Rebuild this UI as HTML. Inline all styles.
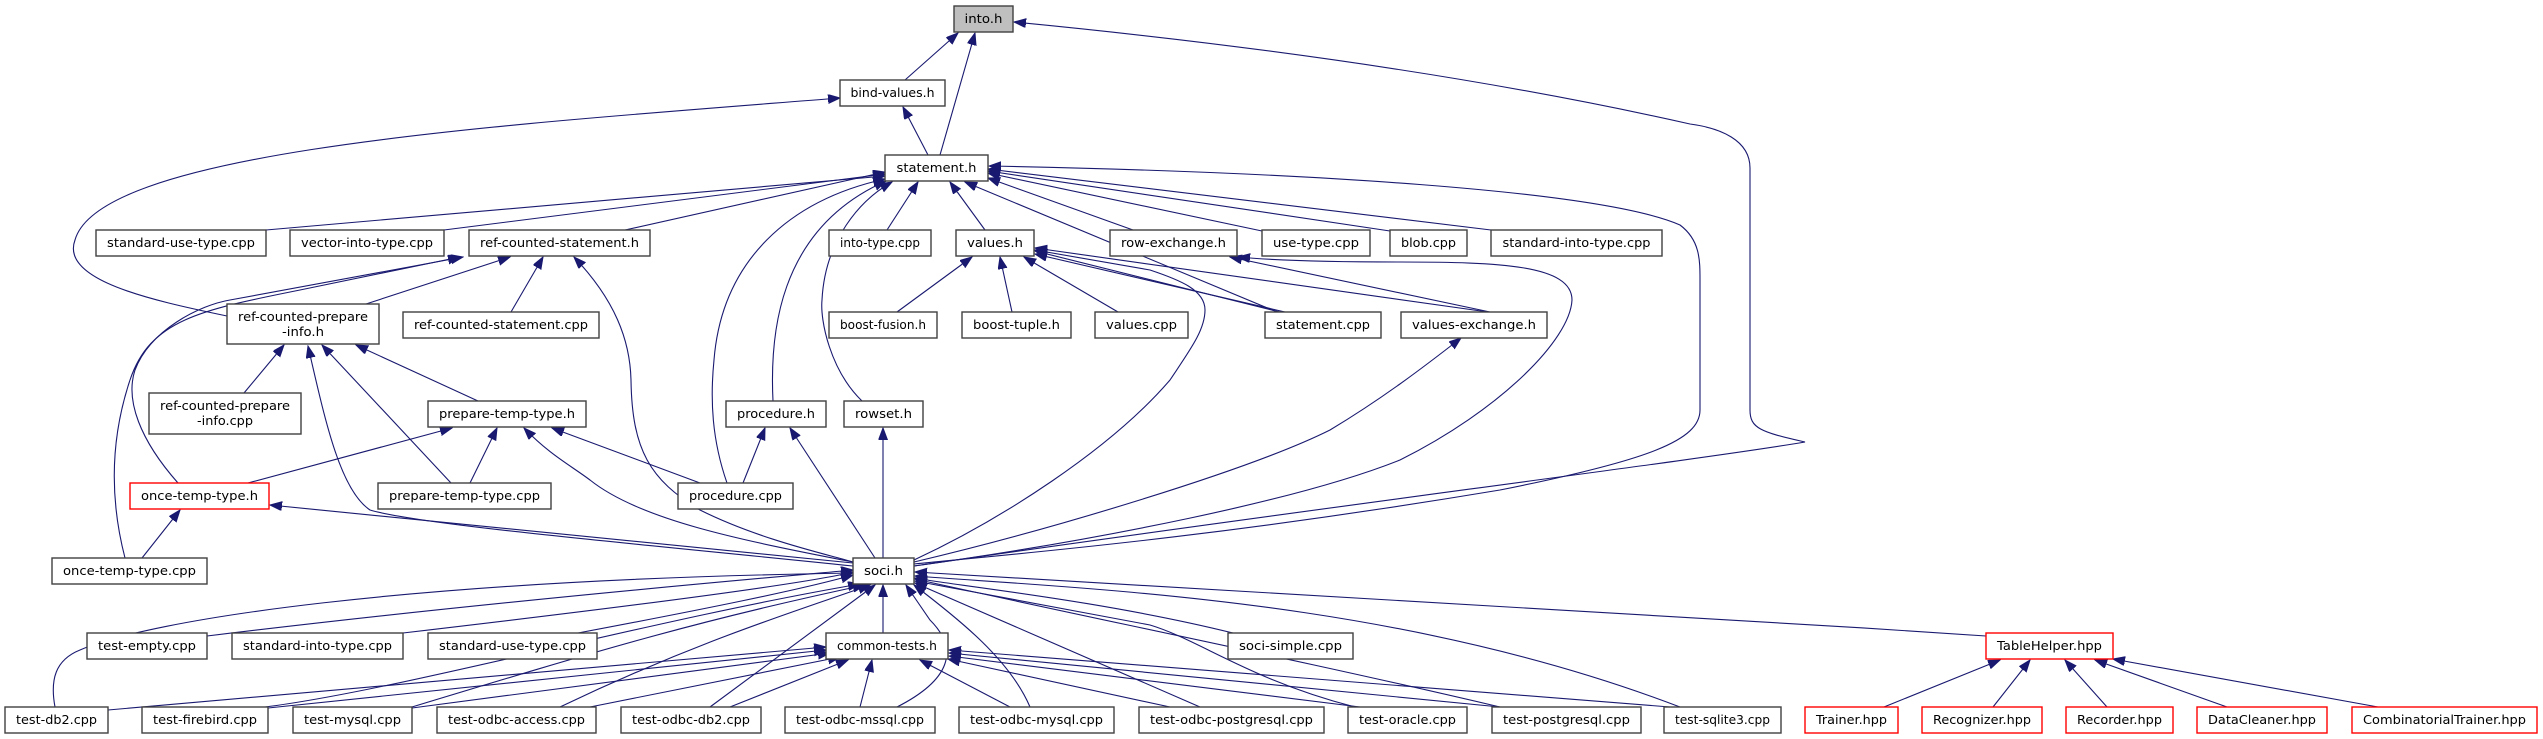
<!DOCTYPE html>
<html><head><meta charset="utf-8"><style>
html,body{margin:0;padding:0;background:#fff;}
svg{display:block;}
text{font-family:"DejaVu Sans","Liberation Sans",sans-serif;font-size:12.5px;fill:#000;text-anchor:middle;}
.e{fill:none;stroke:#191970;stroke-width:1.1;marker-end:url(#a);}
.n{fill:#fff;stroke:#404040;stroke-width:1.4;}
.r{fill:#fff;stroke:#ff0000;stroke-width:1.4;}
</style></head><body>
<svg width="2543" height="739" viewBox="0 0 2543 739" xmlns="http://www.w3.org/2000/svg">
<defs><marker id="a" markerWidth="13" markerHeight="10" refX="12" refY="4.5" orient="auto" markerUnits="userSpaceOnUse"><path d="M0,0 L12,4.5 L0,9 z" fill="#191970" stroke="#191970" stroke-width="1"/></marker></defs>

<path class="e" d="M905,80 L958,33"/>
<path class="e" d="M940,155 L975,33"/>
<path class="e" d="M914,566 C1300,510 1700,460 1805,442 C1760,432 1750,428 1750,410 L1750,168 C1750,140 1720,128 1690,124 C1450,70 1200,40 1014,22"/>
<path class="e" d="M928,155 L903,107"/>
<path class="e" d="M227,316 C150,300 60,280 75,240 C100,150 500,125 840,98"/>
<path class="e" d="M266,230 L885,176"/>
<path class="e" d="M444,230 L885,174"/>
<path class="e" d="M625,230 L885,172"/>
<path class="e" d="M887,230 L918,182"/>
<path class="e" d="M985,230 L950,182"/>
<path class="e" d="M1277,312 L965,182"/>
<path class="e" d="M1133,230 L988,178"/>
<path class="e" d="M1262,231 L988,173"/>
<path class="e" d="M1390,231 L988,171"/>
<path class="e" d="M1491,230 L988,169"/>
<path class="e" d="M914,564 C1000,555 1200,540 1500,490 C1650,460 1700,440 1700,410 L1700,280 C1700,260 1700,240 1680,225 C1600,190 1300,172 989,166"/>
<path class="e" d="M727,483 C712,440 710,400 714,360 C722,260 790,200 885,179"/>
<path class="e" d="M773,401 C770,340 775,230 886,181"/>
<path class="e" d="M862,401 C830,370 820,320 822,300 C825,240 860,200 892,182"/>
<path class="e" d="M853,562 C830,555 760,540 700,510 C650,480 632,450 631,380 C630,340 615,300 574,257"/>
<path class="e" d="M125,558 C110,500 110,440 130,380 C150,320 200,310 300,290 L460,257"/>
<path class="e" d="M178,483 C140,440 125,400 135,370 C150,330 200,305 230,300 L463,257"/>
<path class="e" d="M366,304 L510,257"/>
<path class="e" d="M511,312 L543,257"/>
<path class="e" d="M244,393 L284,345"/>
<path class="e" d="M451,483 L322,345"/>
<path class="e" d="M478,401 L356,345"/>
<path class="e" d="M853,566 C650,545 420,525 370,510 C340,490 325,420 308,346"/>
<path class="e" d="M248,483 L452,428"/>
<path class="e" d="M470,483 L497,428"/>
<path class="e" d="M700,483 L552,428"/>
<path class="e" d="M853,562 C740,540 640,520 590,480 C570,465 550,455 524,428"/>
<path class="e" d="M743,483 L765,428"/>
<path class="e" d="M875,558 L790,428"/>
<path class="e" d="M883,558 L883,428"/>
<path class="e" d="M853,563 L270,505"/>
<path class="e" d="M142,558 L180,510"/>
<path class="e" d="M914,560 C1000,520 1110,450 1170,380 C1190,350 1205,330 1205,310 C1205,290 1180,280 1150,270 L1035,250"/>
<path class="e" d="M914,562 C1050,530 1250,470 1330,430 C1380,400 1420,370 1461,338"/>
<path class="e" d="M914,566 C1100,540 1300,500 1400,460 C1500,410 1570,340 1572,300 C1572,265 1500,262 1400,262 C1320,262 1270,260 1238,257"/>
<path class="e" d="M1490,312 L1230,257"/>
<path class="e" d="M1488,312 L1035,248"/>
<path class="e" d="M1280,312 L1035,251"/>
<path class="e" d="M1285,312 L1035,254"/>
<path class="e" d="M897,312 L972,257"/>
<path class="e" d="M1012,312 L1000,257"/>
<path class="e" d="M1118,312 L1024,257"/>
<path class="e" d="M207,636 C500,600 800,575 853,570"/>
<path class="e" d="M403,633 C600,610 800,585 853,572"/>
<path class="e" d="M578,633 C700,610 800,590 853,575"/>
<path class="e" d="M883,633 L883,585"/>
<path class="e" d="M1233,633 C1100,600 950,585 915,578"/>
<path class="e" d="M1986,636 C1600,610 1200,590 915,572"/>
<path class="e" d="M55,707 C50,680 55,660 80,650 C150,620 400,580 853,573"/>
<path class="e" d="M265,707 C400,690 650,620 860,584"/>
<path class="e" d="M412,707 C600,650 700,620 865,585"/>
<path class="e" d="M560,707 C700,640 800,610 870,585"/>
<path class="e" d="M710,707 L875,585"/>
<path class="e" d="M897,707 C950,680 960,650 930,620 L906,585"/>
<path class="e" d="M1030,707 C1010,660 960,620 914,585"/>
<path class="e" d="M1200,707 L915,583"/>
<path class="e" d="M1355,707 C1250,680 1200,640 1150,625 L915,581"/>
<path class="e" d="M1500,707 C1300,660 1100,620 915,579"/>
<path class="e" d="M1680,707 C1400,600 1100,590 915,576"/>
<path class="e" d="M108,710 L826,647"/>
<path class="e" d="M268,708 L826,650"/>
<path class="e" d="M412,708 L830,653"/>
<path class="e" d="M590,707 L840,657"/>
<path class="e" d="M730,707 L848,660"/>
<path class="e" d="M860,707 L872,660"/>
<path class="e" d="M1010,707 L920,660"/>
<path class="e" d="M1170,707 L948,659"/>
<path class="e" d="M1360,707 L949,656"/>
<path class="e" d="M1500,707 L949,653"/>
<path class="e" d="M1670,707 L949,650"/>
<path class="e" d="M1884,707 L2000,660"/>
<path class="e" d="M1993,707 L2030,660"/>
<path class="e" d="M2107,707 L2065,660"/>
<path class="e" d="M2227,707 L2095,660"/>
<path class="e" d="M2378,707 L2113,659"/>

<rect x="954" y="6" width="59" height="26" fill="#bfbfbf" stroke="#404040" stroke-width="1.4"/><text x="983.5" y="23" textLength="38" lengthAdjust="spacingAndGlyphs">into.h</text>
<rect class="n" x="840" y="80" width="105" height="26"/><text x="892.5" y="97" textLength="84" lengthAdjust="spacingAndGlyphs">bind-values.h</text>
<rect class="n" x="885" y="155" width="103" height="26"/><text x="936.5" y="172" textLength="80" lengthAdjust="spacingAndGlyphs">statement.h</text>
<rect class="n" x="96" y="230" width="170" height="26"/><text x="181" y="247" textLength="148" lengthAdjust="spacingAndGlyphs">standard-use-type.cpp</text>
<rect class="n" x="290" y="230" width="154" height="26"/><text x="367" y="247" textLength="132" lengthAdjust="spacingAndGlyphs">vector-into-type.cpp</text>
<rect class="n" x="469" y="230" width="181" height="26"/><text x="559.5" y="247" textLength="159" lengthAdjust="spacingAndGlyphs">ref-counted-statement.h</text>
<rect class="n" x="829" y="230" width="102" height="26"/><text x="880" y="247" textLength="80" lengthAdjust="spacingAndGlyphs">into-type.cpp</text>
<rect class="n" x="956" y="230" width="78" height="26"/><text x="995" y="247" textLength="56" lengthAdjust="spacingAndGlyphs">values.h</text>
<rect class="n" x="1110" y="230" width="127" height="26"/><text x="1173.5" y="247" textLength="105" lengthAdjust="spacingAndGlyphs">row-exchange.h</text>
<rect class="n" x="1262" y="230" width="108" height="26"/><text x="1316" y="247" textLength="86" lengthAdjust="spacingAndGlyphs">use-type.cpp</text>
<rect class="n" x="1390" y="230" width="77" height="26"/><text x="1428.5" y="247" textLength="55" lengthAdjust="spacingAndGlyphs">blob.cpp</text>
<rect class="n" x="1491" y="230" width="171" height="26"/><text x="1576.5" y="247" textLength="148" lengthAdjust="spacingAndGlyphs">standard-into-type.cpp</text>
<rect class="n" x="227" y="304" width="152" height="40"/><text x="303" y="321" textLength="130" lengthAdjust="spacingAndGlyphs">ref-counted-prepare</text><text x="303" y="336" textLength="42" lengthAdjust="spacingAndGlyphs">-info.h</text>
<rect class="n" x="403" y="312" width="196" height="26"/><text x="501" y="329" textLength="174" lengthAdjust="spacingAndGlyphs">ref-counted-statement.cpp</text>
<rect class="n" x="829" y="312" width="108" height="26"/><text x="883" y="329" textLength="86" lengthAdjust="spacingAndGlyphs">boost-fusion.h</text>
<rect class="n" x="962" y="312" width="109" height="26"/><text x="1016.5" y="329" textLength="87" lengthAdjust="spacingAndGlyphs">boost-tuple.h</text>
<rect class="n" x="1095" y="312" width="93" height="26"/><text x="1141.5" y="329" textLength="71" lengthAdjust="spacingAndGlyphs">values.cpp</text>
<rect class="n" x="1265" y="312" width="116" height="26"/><text x="1323" y="329" textLength="94" lengthAdjust="spacingAndGlyphs">statement.cpp</text>
<rect class="n" x="1401" y="312" width="146" height="26"/><text x="1474" y="329" textLength="124" lengthAdjust="spacingAndGlyphs">values-exchange.h</text>
<rect class="n" x="149" y="393" width="152" height="41"/><text x="225" y="410" textLength="130" lengthAdjust="spacingAndGlyphs">ref-counted-prepare</text><text x="225" y="425" textLength="56" lengthAdjust="spacingAndGlyphs">-info.cpp</text>
<rect class="n" x="428" y="401" width="158" height="26"/><text x="507" y="418" textLength="136" lengthAdjust="spacingAndGlyphs">prepare-temp-type.h</text>
<rect class="n" x="726" y="401" width="100" height="26"/><text x="776" y="418" textLength="78" lengthAdjust="spacingAndGlyphs">procedure.h</text>
<rect class="n" x="844" y="401" width="79" height="26"/><text x="883.5" y="418" textLength="57" lengthAdjust="spacingAndGlyphs">rowset.h</text>
<rect class="r" x="130" y="483" width="139" height="26"/><text x="199.5" y="500" textLength="117" lengthAdjust="spacingAndGlyphs">once-temp-type.h</text>
<rect class="n" x="378" y="483" width="173" height="26"/><text x="464.5" y="500" textLength="151" lengthAdjust="spacingAndGlyphs">prepare-temp-type.cpp</text>
<rect class="n" x="678" y="483" width="115" height="26"/><text x="735.5" y="500" textLength="93" lengthAdjust="spacingAndGlyphs">procedure.cpp</text>
<rect class="n" x="52" y="558" width="155" height="26"/><text x="129.5" y="575" textLength="133" lengthAdjust="spacingAndGlyphs">once-temp-type.cpp</text>
<rect class="n" x="853" y="558" width="61" height="26"/><text x="883.5" y="575" textLength="39" lengthAdjust="spacingAndGlyphs">soci.h</text>
<rect class="n" x="87" y="633" width="120" height="26"/><text x="147" y="650" textLength="98" lengthAdjust="spacingAndGlyphs">test-empty.cpp</text>
<rect class="n" x="232" y="633" width="171" height="26"/><text x="317.5" y="650" textLength="149" lengthAdjust="spacingAndGlyphs">standard-into-type.cpp</text>
<rect class="n" x="428" y="633" width="169" height="26"/><text x="512.5" y="650" textLength="147" lengthAdjust="spacingAndGlyphs">standard-use-type.cpp</text>
<rect class="n" x="826" y="633" width="122" height="26"/><text x="887" y="650" textLength="100" lengthAdjust="spacingAndGlyphs">common-tests.h</text>
<rect class="n" x="1228" y="633" width="125" height="26"/><text x="1290.5" y="650" textLength="103" lengthAdjust="spacingAndGlyphs">soci-simple.cpp</text>
<rect class="r" x="1986" y="633" width="127" height="26"/><text x="2049.5" y="650" textLength="105" lengthAdjust="spacingAndGlyphs">TableHelper.hpp</text>
<rect class="n" x="5" y="707" width="103" height="26"/><text x="56.5" y="724" textLength="81" lengthAdjust="spacingAndGlyphs">test-db2.cpp</text>
<rect class="n" x="142" y="707" width="126" height="26"/><text x="205" y="724" textLength="104" lengthAdjust="spacingAndGlyphs">test-firebird.cpp</text>
<rect class="n" x="293" y="707" width="119" height="26"/><text x="352.5" y="724" textLength="97" lengthAdjust="spacingAndGlyphs">test-mysql.cpp</text>
<rect class="n" x="437" y="707" width="159" height="26"/><text x="516.5" y="724" textLength="137" lengthAdjust="spacingAndGlyphs">test-odbc-access.cpp</text>
<rect class="n" x="621" y="707" width="140" height="26"/><text x="691" y="724" textLength="118" lengthAdjust="spacingAndGlyphs">test-odbc-db2.cpp</text>
<rect class="n" x="785" y="707" width="150" height="26"/><text x="860" y="724" textLength="128" lengthAdjust="spacingAndGlyphs">test-odbc-mssql.cpp</text>
<rect class="n" x="959" y="707" width="155" height="26"/><text x="1036.5" y="724" textLength="133" lengthAdjust="spacingAndGlyphs">test-odbc-mysql.cpp</text>
<rect class="n" x="1139" y="707" width="185" height="26"/><text x="1231.5" y="724" textLength="163" lengthAdjust="spacingAndGlyphs">test-odbc-postgresql.cpp</text>
<rect class="n" x="1348" y="707" width="119" height="26"/><text x="1407.5" y="724" textLength="97" lengthAdjust="spacingAndGlyphs">test-oracle.cpp</text>
<rect class="n" x="1492" y="707" width="149" height="26"/><text x="1566.5" y="724" textLength="127" lengthAdjust="spacingAndGlyphs">test-postgresql.cpp</text>
<rect class="n" x="1664" y="707" width="117" height="26"/><text x="1722.5" y="724" textLength="95" lengthAdjust="spacingAndGlyphs">test-sqlite3.cpp</text>
<rect class="r" x="1805" y="707" width="93" height="26"/><text x="1851.5" y="724" textLength="71" lengthAdjust="spacingAndGlyphs">Trainer.hpp</text>
<rect class="r" x="1922" y="707" width="120" height="26"/><text x="1982" y="724" textLength="98" lengthAdjust="spacingAndGlyphs">Recognizer.hpp</text>
<rect class="r" x="2066" y="707" width="107" height="26"/><text x="2119.5" y="724" textLength="85" lengthAdjust="spacingAndGlyphs">Recorder.hpp</text>
<rect class="r" x="2197" y="707" width="130" height="26"/><text x="2262" y="724" textLength="108" lengthAdjust="spacingAndGlyphs">DataCleaner.hpp</text>
<rect class="r" x="2352" y="707" width="185" height="26"/><text x="2444.5" y="724" textLength="163" lengthAdjust="spacingAndGlyphs">CombinatorialTrainer.hpp</text>
</svg>
</body></html>
